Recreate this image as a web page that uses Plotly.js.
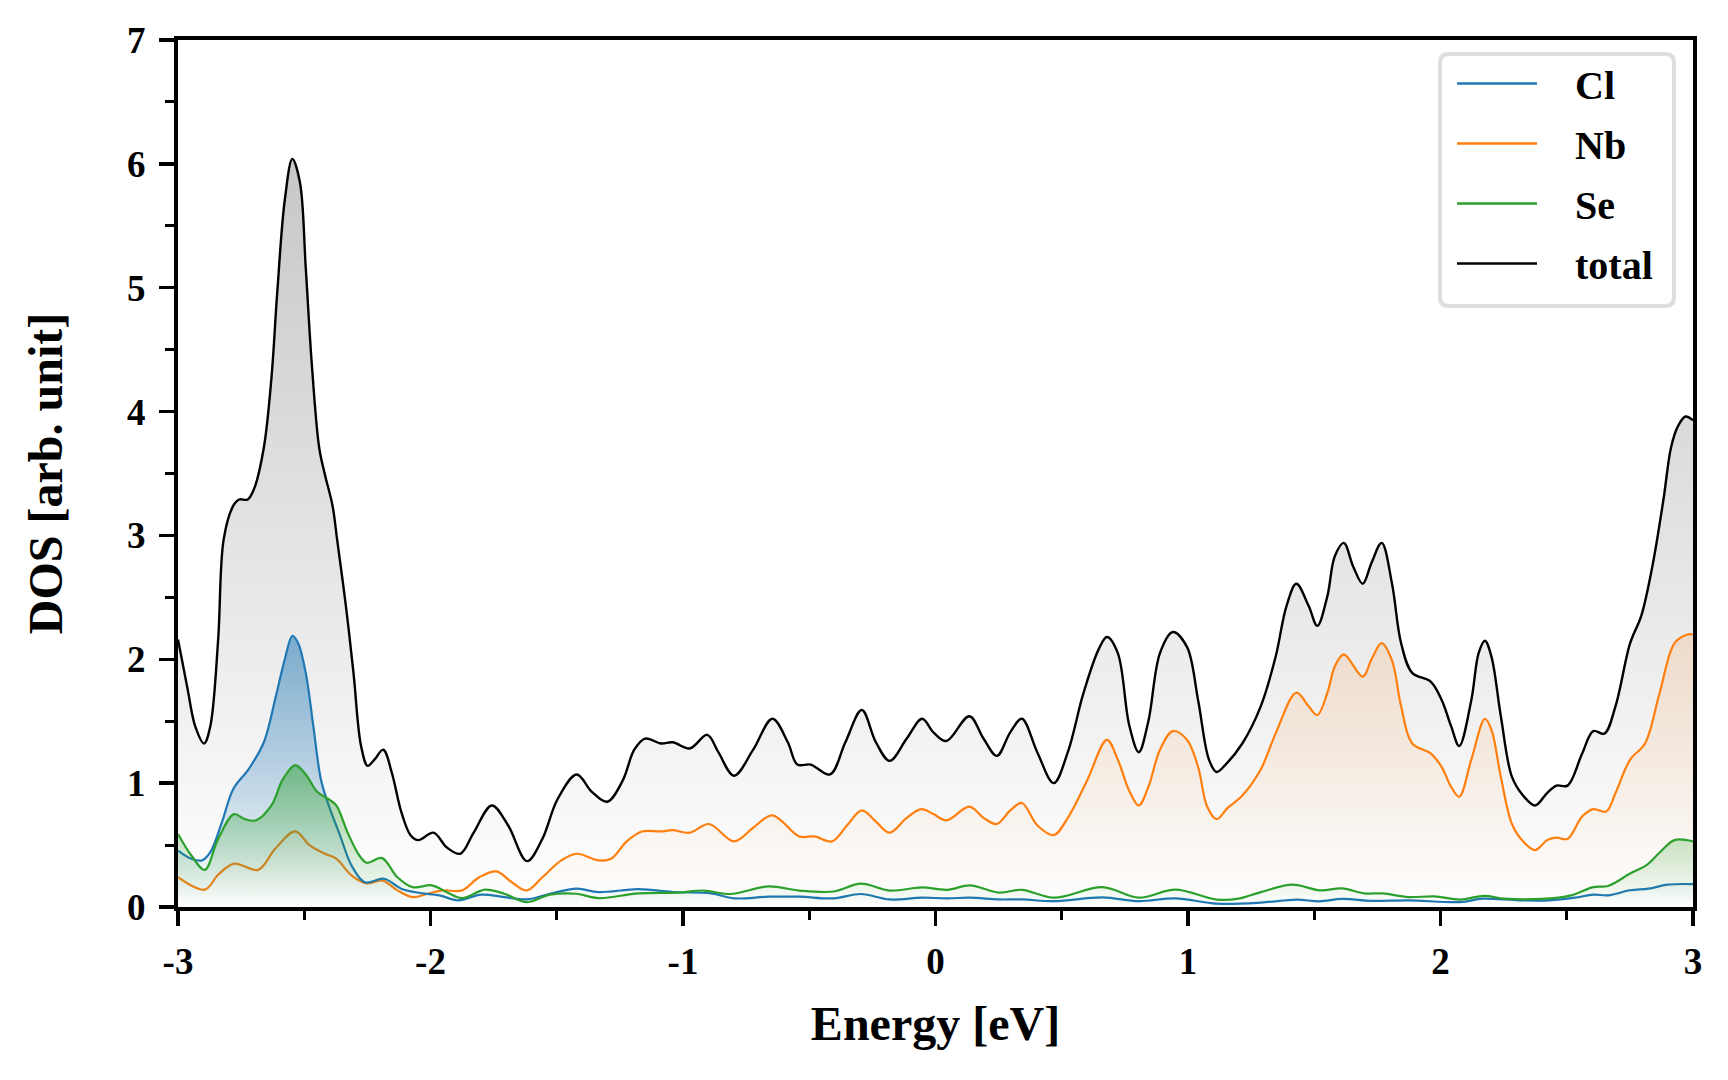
<!DOCTYPE html>
<html><head><meta charset="utf-8">
<script src="https://cdn.plot.ly/plotly-3.0.1.min.js"></script>
<style>html,body{margin:0;padding:0;background:#fff}</style>
</head><body><div id="chart" style="width:1728px;height:1080px"></div>
<script>
const energyTotal = [-3.0,-2.962,-2.932,-2.897,-2.872,-2.841,-2.819,-2.781,-2.758,-2.724,-2.698,-2.66,-2.63,-2.607,-2.577,-2.547,-2.517,-2.494,-2.471,-2.441,-2.418,-2.388,-2.37,-2.335,-2.305,-2.275,-2.249,-2.222,-2.187,-2.154,-2.116,-2.079,-2.048,-1.988,-1.935,-1.882,-1.829,-1.757,-1.693,-1.618,-1.557,-1.497,-1.421,-1.361,-1.30,-1.239,-1.193,-1.15,-1.087,-1.041,-0.973,-0.904,-0.86,-0.798,-0.722,-0.646,-0.585,-0.547,-0.494,-0.418,-0.357,-0.292,-0.236,-0.182,-0.114,-0.053,-0.008,0.043,0.134,0.19,0.243,0.296,0.342,0.403,0.468,0.524,0.585,0.646,0.679,0.722,0.767,0.805,0.843,0.889,0.94,0.996,1.04,1.083,1.113,1.149,1.215,1.288,1.347,1.39,1.429,1.478,1.512,1.552,1.581,1.617,1.654,1.692,1.727,1.767,1.808,1.844,1.888,1.961,2.005,2.042,2.074,2.122,2.151,2.176,2.202,2.239,2.283,2.327,2.375,2.422,2.459,2.503,2.561,2.605,2.649,2.693,2.751,2.795,2.839,2.883,2.913,2.94,2.97,3.0];
const dosTotal = [2.16,1.76,1.46,1.32,1.46,2.16,2.97,3.24,3.29,3.29,3.38,3.71,4.27,4.96,5.71,6.04,5.85,5.16,4.41,3.71,3.49,3.24,2.97,2.43,1.89,1.30,1.14,1.19,1.27,1.09,0.77,0.58,0.54,0.60,0.48,0.43,0.60,0.82,0.66,0.37,0.55,0.87,1.07,0.93,0.85,1.02,1.27,1.36,1.32,1.33,1.28,1.39,1.25,1.06,1.27,1.52,1.33,1.15,1.15,1.07,1.33,1.59,1.33,1.18,1.36,1.52,1.41,1.34,1.54,1.36,1.22,1.41,1.52,1.25,1.0,1.25,1.72,2.08,2.18,2.05,1.47,1.25,1.50,2.05,2.22,2.10,1.67,1.19,1.09,1.15,1.32,1.62,2.02,2.43,2.61,2.43,2.27,2.51,2.83,2.94,2.75,2.61,2.78,2.94,2.61,2.13,1.89,1.82,1.67,1.46,1.30,1.67,2.05,2.15,2.02,1.54,1.05,0.90,0.82,0.92,0.98,0.98,1.24,1.42,1.40,1.62,2.13,2.35,2.75,3.29,3.71,3.88,3.96,3.93];

const energyNb = [-3.0,-2.894,-2.841,-2.778,-2.683,-2.615,-2.536,-2.479,-2.418,-2.373,-2.313,-2.252,-2.192,-2.131,-2.071,-2.011,-1.95,-1.875,-1.807,-1.739,-1.678,-1.618,-1.557,-1.482,-1.421,-1.334,-1.284,-1.223,-1.163,-1.087,-1.041,-0.973,-0.897,-0.798,-0.722,-0.646,-0.54,-0.479,-0.41,-0.35,-0.292,-0.236,-0.182,-0.114,-0.056,-0.008,0.043,0.134,0.19,0.243,0.296,0.342,0.403,0.468,0.524,0.6,0.679,0.722,0.767,0.805,0.843,0.889,0.94,0.996,1.04,1.076,1.113,1.157,1.215,1.288,1.347,1.429,1.478,1.512,1.552,1.581,1.617,1.692,1.727,1.767,1.808,1.844,1.888,1.961,2.005,2.042,2.074,2.122,2.176,2.202,2.239,2.283,2.327,2.375,2.422,2.459,2.503,2.561,2.605,2.656,2.693,2.751,2.81,2.868,2.927,2.978,3.0];
const dosNb = [0.24,0.14,0.26,0.35,0.30,0.47,0.61,0.50,0.43,0.39,0.255,0.19,0.215,0.134,0.08,0.107,0.134,0.134,0.24,0.287,0.2,0.134,0.24,0.376,0.43,0.376,0.39,0.53,0.61,0.61,0.62,0.60,0.67,0.53,0.64,0.74,0.57,0.57,0.53,0.66,0.78,0.69,0.60,0.72,0.79,0.75,0.70,0.81,0.72,0.67,0.78,0.84,0.66,0.58,0.72,1.02,1.35,1.19,0.94,0.82,0.97,1.27,1.42,1.35,1.13,0.81,0.71,0.80,0.90,1.11,1.40,1.73,1.62,1.55,1.73,1.94,2.04,1.86,2.0,2.13,1.99,1.62,1.32,1.24,1.13,0.97,0.89,1.19,1.52,1.43,1.05,0.67,0.53,0.46,0.54,0.56,0.55,0.73,0.79,0.77,0.92,1.19,1.32,1.73,2.13,2.20,2.2];

const energyCl = [-3.0,-2.947,-2.906,-2.872,-2.826,-2.781,-2.72,-2.66,-2.615,-2.577,-2.547,-2.524,-2.494,-2.464,-2.434,-2.403,-2.358,-2.313,-2.26,-2.184,-2.116,-2.041,-1.965,-1.89,-1.799,-1.708,-1.618,-1.527,-1.421,-1.334,-1.178,-1.026,-0.889,-0.798,-0.661,-0.54,-0.403,-0.296,-0.182,-0.053,0.046,0.137,0.251,0.342,0.471,0.661,0.805,0.95,1.113,1.288,1.43,1.52,1.61,1.727,1.873,2.078,2.166,2.312,2.43,2.532,2.605,2.664,2.751,2.824,2.898,3.0];
const dosCl = [0.456,0.39,0.376,0.443,0.685,0.953,1.114,1.33,1.68,2.0,2.19,2.13,1.89,1.46,1.03,0.82,0.577,0.336,0.2,0.228,0.148,0.113,0.094,0.054,0.1,0.08,0.062,0.107,0.148,0.12,0.144,0.12,0.11,0.07,0.083,0.083,0.07,0.105,0.061,0.075,0.07,0.075,0.061,0.061,0.047,0.078,0.047,0.07,0.027,0.035,0.06,0.046,0.065,0.05,0.054,0.04,0.067,0.054,0.054,0.075,0.1,0.094,0.135,0.148,0.18,0.185];

const energySe = [-3.0,-2.947,-2.894,-2.841,-2.778,-2.736,-2.69,-2.63,-2.585,-2.536,-2.494,-2.449,-2.403,-2.373,-2.328,-2.282,-2.252,-2.192,-2.131,-2.071,-1.995,-1.935,-1.875,-1.784,-1.708,-1.618,-1.527,-1.421,-1.334,-1.178,-1.026,-0.919,-0.813,-0.661,-0.54,-0.403,-0.296,-0.182,-0.053,0.046,0.137,0.251,0.342,0.471,0.661,0.805,0.95,1.113,1.2,1.288,1.413,1.522,1.61,1.698,1.77,1.873,1.976,2.078,2.173,2.254,2.4,2.517,2.605,2.664,2.751,2.817,2.868,2.927,3.0];
const dosSe = [0.59,0.416,0.30,0.55,0.75,0.71,0.70,0.82,1.03,1.146,1.07,0.93,0.87,0.82,0.60,0.416,0.357,0.395,0.24,0.16,0.175,0.12,0.072,0.14,0.107,0.04,0.1,0.107,0.072,0.11,0.116,0.133,0.105,0.166,0.133,0.125,0.188,0.133,0.158,0.139,0.175,0.116,0.139,0.075,0.16,0.075,0.14,0.06,0.067,0.12,0.18,0.135,0.15,0.11,0.11,0.08,0.086,0.06,0.09,0.067,0.065,0.094,0.16,0.17,0.27,0.34,0.44,0.54,0.53];

const seriesNames = ['Cl', 'Nb', 'Se', 'total'];
const seriesColors = ['#1f77b4', '#ff7f0e', '#2ca02c', '#000000'];
const xTickVals = [-3,-2,-1,0,1,2,3];
const xTickText = ['-3','-2','-1','0','1','2','3'];
const yTickVals = [0,1,2,3,4,5,6,7];
const yTickText = ['0','1','2','3','4','5','6','7'];

const FONT = 'Liberation Serif, Times New Roman, serif';

function makeTrace(name, x, y, color, rgb, alphaTop, width) {
  return {
    type: 'scatter', mode: 'lines', name: name, x: x, y: y,
    line: {color: color, width: width, shape: 'spline', smoothing: 1.0},
    fill: 'tozeroy',
    fillgradient: {
      type: 'vertical', start: 0, stop: Math.max.apply(null, y),
      colorscale: [[0, 'rgba(' + rgb + ',0)'], [1, 'rgba(' + rgb + ',' + alphaTop + ')']]
    },
    showlegend: false, hoverinfo: 'x+y+name'
  };
}

const traces = [
  makeTrace('total', energyTotal, dosTotal, '#000000', '0,0,0', 0.22, 2.4),
  makeTrace('Nb', energyNb, dosNb, '#ff7f0e', '255,127,14', 0.15, 2.2),
  makeTrace('Cl', energyCl, dosCl, '#1f77b4', '31,119,180', 0.55, 2.2),
  makeTrace('Se', energySe, dosSe, '#2ca02c', '44,160,44', 0.5, 2.2)
];
// legend entries (line-only keys, in legend order)
seriesNames.forEach(function (nm, i) {
  traces.push({type: 'scatter', mode: 'lines', name: nm, x: [null], y: [null],
    line: {color: seriesColors[i], width: 2.4}, showlegend: true, legendrank: i + 1, legendgroup: nm, hoverinfo: 'skip'});
});

const L = 178, R = 35, T = 40, B = 173;
const W = 1728 - L - R, H = 1080 - T - B;
const px = v => (v - L) / W;
const py = v => 1 - (v - T) / H;
const bx0 = px(1440), bx1 = px(1674), by1 = py(54), by0 = py(306);
const rx = 9 / W, ry = 9 / H;
const framePath = `M${bx0+rx},${by1} L${bx1-rx},${by1} Q${bx1},${by1} ${bx1},${by1-ry} L${bx1},${by0+ry} Q${bx1},${by0} ${bx1-rx},${by0} L${bx0+rx},${by0} Q${bx0},${by0} ${bx0},${by0+ry} L${bx0},${by1-ry} Q${bx0},${by1} ${bx0+rx},${by1} Z`;

const axisCommon = {
  showgrid: false, zeroline: false, showline: true, linewidth: 4, linecolor: '#000', mirror: true,
  ticks: 'outside', ticklen: 15, tickwidth: 3.5, tickcolor: '#000',
  tickfont: {family: FONT, size: 37, color: '#000', weight: 'bold'},
  automargin: false
};

const layout = {
  width: 1728, height: 1080,
  margin: {l: L, r: R, t: T, b: B},
  paper_bgcolor: '#fff', plot_bgcolor: '#fff',
  showlegend: true,
  xaxis: Object.assign({}, axisCommon, {
    range: [-3, 3], tickmode: 'array', tickvals: xTickVals, ticktext: xTickText,
    ticklabelstandoff: 4,
    minor: {dtick: 0.5, tick0: 0, ticks: 'outside', ticklen: 9, tickwidth: 3, tickcolor: '#000', showgrid: false},
    title: {text: 'Energy [eV]', font: {family: FONT, size: 48, color: '#000', weight: 'bold'}, standoff: 26}
  }),
  yaxis: Object.assign({}, axisCommon, {
    range: [0, 7], tickmode: 'array', tickvals: yTickVals, ticktext: yTickText,
    ticklabelstandoff: 6,
    minor: {dtick: 0.5, tick0: 0, ticks: 'outside', ticklen: 9, tickwidth: 3, tickcolor: '#000', showgrid: false},
    title: {text: 'DOS [arb. unit]', font: {family: FONT, size: 48, color: '#000', weight: 'bold'}, standoff: 50}
  }),
  legend: {
    x: px(1452), xanchor: 'left', y: py(51), yanchor: 'top',
    bgcolor: 'rgba(0,0,0,0)', borderwidth: 0,
    font: {family: FONT, size: 40, color: '#000', weight: 'bold'},
    traceorder: 'grouped', tracegroupgap: 5, itemwidth: 80
  },
  shapes: [{
    type: 'path', xref: 'paper', yref: 'paper', path: framePath,
    line: {color: '#dedede', width: 4}, fillcolor: '#ffffff', layer: 'above'
  }]
};

Plotly.newPlot('chart', traces, layout, {displayModeBar: false, staticPlot: true}).then(function (gd) {
  // widen the gap between legend keys and labels, as in the reference
  gd.querySelectorAll('.legend [clip-path]').forEach(function (e) { e.removeAttribute('clip-path'); });
  gd.querySelectorAll('.legend .legendtext').forEach(function (t) {
    t.setAttribute('x', (parseFloat(t.getAttribute('x')) || 0) + 33);
  });
});
</script></body></html>
